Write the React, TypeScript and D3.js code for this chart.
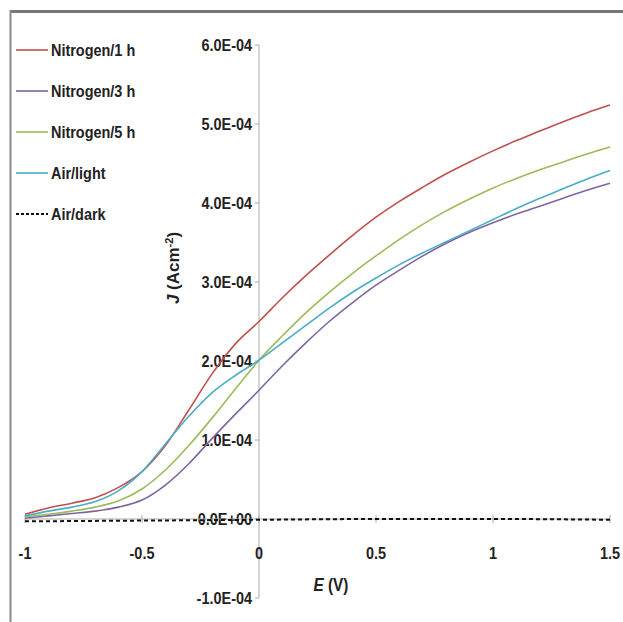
import * as d3 from 'd3';

// potential E (V), shared by every measured series
const E_VALUES = [-1, -0.9, -0.8, -0.7, -0.6, -0.5, -0.4, -0.3, -0.2, -0.1, 0, 0.1, 0.2, 0.3, 0.4, 0.5, 0.6, 0.7, 0.8, 0.9, 1.0, 1.1, 1.2, 1.3, 1.4, 1.5];

// current density, in units of 1E-04 A/cm2
const NITROGEN_1H = [0.06, 0.14, 0.2, 0.27, 0.4, 0.6, 0.93, 1.38, 1.84, 2.22, 2.5, 2.8, 3.08, 3.34, 3.59, 3.82, 4.02, 4.2, 4.37, 4.52, 4.66, 4.79, 4.91, 5.03, 5.14, 5.24];
const NITROGEN_3H = [0.01, 0.04, 0.07, 0.1, 0.15, 0.24, 0.43, 0.7, 1.02, 1.33, 1.63, 1.94, 2.23, 2.5, 2.74, 2.96, 3.15, 3.33, 3.49, 3.63, 3.75, 3.86, 3.96, 4.06, 4.16, 4.25];
const NITROGEN_5H = [0.03, 0.06, 0.1, 0.15, 0.23, 0.38, 0.62, 0.93, 1.28, 1.65, 2.01, 2.32, 2.61, 2.87, 3.11, 3.33, 3.54, 3.73, 3.9, 4.05, 4.19, 4.31, 4.42, 4.52, 4.62, 4.71];
const AIR_LIGHT = [0.04, 0.1, 0.15, 0.22, 0.36, 0.6, 0.95, 1.3, 1.6, 1.82, 2.01, 2.23, 2.45, 2.67, 2.87, 3.05, 3.22, 3.37, 3.51, 3.65, 3.79, 3.93, 4.06, 4.18, 4.3, 4.41];

const DARK_E = [-1, -0.5, 0, 0.5, 1, 1.5];
const AIR_DARK = [-0.03, -0.02, -0.01, 0, 0, -0.01];

const SERIES_NAMES = ['Nitrogen/1 h', 'Nitrogen/3 h', 'Nitrogen/5 h', 'Air/light', 'Air/dark'];
const SERIES_COLORS = ['#c0504d', '#8064a2', '#9bbb59', '#4bacc6', '#111'];

const X_TICKS = [-1, -0.5, 0, 0.5, 1, 1.5];
const X_TICK_LABELS = ['-1', '-0.5', '0', '0.5', '1', '1.5'];
const Y_TICKS = [-1, 0, 1, 2, 3, 4, 5, 6];
const Y_TICK_LABELS = ['-1.0E-04', '0.0E+00', '1.0E-04', '2.0E-04', '3.0E-04', '4.0E-04', '5.0E-04', '6.0E-04'];

const FONT = "'Liberation Sans Narrow', 'Arial Narrow', 'Liberation Sans', sans-serif";
const SQUEEZE = 0.85; // no narrow font installed, so squeeze the regular one

function Narrow({ x, y, anchor = 'start', size = 17, children }: any) {
  return (
    <text transform={`translate(${x},${y}) scale(${SQUEEZE},1)`} dy="0.35em" textAnchor={anchor} fontSize={size}>
      {children}
    </text>
  );
}

export default function App() {
  const width = 623;
  const height = 622;

  const x = d3.scaleLinear().domain([-1, 1.5]).range([25, 610]);
  const y = d3.scaleLinear().domain([-1, 6]).range([598, 45]);

  const line = d3.line<[number, number]>()
    .x(d => x(d[0]))
    .y(d => y(d[1]))
    .curve(d3.curveMonotoneX);

  const measured = [NITROGEN_1H, NITROGEN_3H, NITROGEN_5H, AIR_LIGHT].map(vals =>
    E_VALUES.map((e, i) => [e, vals[i]] as [number, number])
  );
  const dark = DARK_E.map((e, i) => [e, AIR_DARK[i]] as [number, number]);

  const x0 = x(0);
  const y0 = y(0);

  return (
    <svg width={width} height={height} style={{ position: 'absolute', left: 0, top: 0, background: '#fff' }}
      fontFamily={FONT} fontWeight="bold" fill="#222">
      {/* frame */}
      <line x1={10} x2={width} y1={11.5} y2={11.5} stroke="#777" strokeWidth={3} />
      <line x1={10.5} x2={10.5} y1={10} y2={height} stroke="#888" strokeWidth={2} />

      {/* y axis */}
      <line x1={x0} x2={x0} y1={y(6)} y2={y(-1)} stroke="#aaa" strokeWidth={1} />
      {Y_TICKS.map((t, i) => (
        <g key={t}>
          <line x1={x0 - 4} x2={x0} y1={y(t)} y2={y(t)} stroke="#aaa" />
          <Narrow x={x0 - 7} y={y(t)} anchor="end">{Y_TICK_LABELS[i]}</Narrow>
        </g>
      ))}

      {/* x axis */}
      <line x1={x(-1)} x2={x(1.5)} y1={y0} y2={y0} stroke="#aaa" />
      {X_TICKS.map((t, i) => (
        <g key={t}>
          <line x1={x(t)} x2={x(t)} y1={y0 - 4} y2={y0 + 4} stroke="#aaa" />
          <Narrow x={x(t)} y={553} anchor="middle">{X_TICK_LABELS[i]}</Narrow>
        </g>
      ))}

      {/* axis titles */}
      <Narrow x={331} y={585} anchor="middle" size={18}>
        <tspan fontStyle="italic">E</tspan> (V)
      </Narrow>
      <text transform={`translate(173,268) rotate(-90)`} dy="0.35em" textAnchor="middle" fontSize={17}>
        <tspan fontStyle="italic">J</tspan> (Acm<tspan dy="-6" fontSize={11}>-2</tspan><tspan dy="6">)</tspan>
      </text>

      {/* series */}
      {measured.map((pts, i) => (
        <path key={SERIES_NAMES[i]} d={line(pts) ?? ''} fill="none" stroke={SERIES_COLORS[i]} strokeWidth={1.6} />
      ))}
      <path d={line(dark) ?? ''} fill="none" stroke={SERIES_COLORS[4]} strokeWidth={2} strokeDasharray="4,3" />

      {/* legend */}
      {SERIES_NAMES.map((name, i) => {
        const ly = 50 + i * 41;
        return (
          <g key={name}>
            <line x1={16} x2={48} y1={ly} y2={ly} stroke={SERIES_COLORS[i]} strokeWidth={i === 4 ? 2 : 1.6}
              strokeDasharray={i === 4 ? '3,2' : undefined} />
            <Narrow x={51} y={ly}>{name}</Narrow>
          </g>
        );
      })}
    </svg>
  );
}
